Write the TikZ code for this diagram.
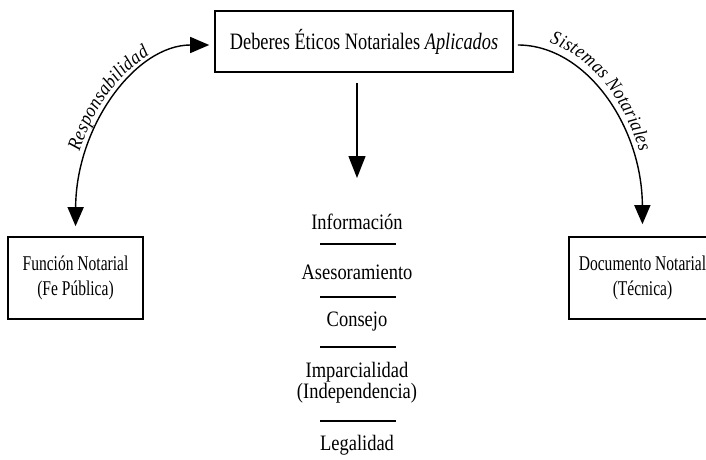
\documentclass[tikz,border=0pt]{standalone}
\usepackage{fontspec}
\setmainfont{Liberation Serif}
\newfontfamily\condfont[FakeStretch=0.78]{Liberation Serif}
\newfontfamily\boxfont[FakeStretch=0.74]{Liberation Serif}
\newfontfamily\listfont[FakeStretch=0.84]{Liberation Serif}
\newfontfamily\lblfam[FakeStretch=0.9]{Liberation Serif}
\newcommand\lblfont{\lblfam\itshape\fontsize{19.5}{19.5}\selectfont}
\usetikzlibrary{arrows.meta,decorations.text}
\tikzset{
  box/.style={draw, line width=1.6pt, inner sep=0pt, align=center},
  conn/.style={line width=1.4pt},
  listtext/.style={font=\listfont\fontsize{22}{24}\selectfont, inner sep=0pt, align=center},
  sepline/.style={line width=2pt},
  curvelabel/.style 2 args={decoration={text along path, text align={left indent=#2}, raise=8pt, text={#1}}, decorate}
}
\begin{document}
\begin{tikzpicture}[x=1pt,y=1pt]
\useasboundingbox (0,0) rectangle (706,459);
\clip (0,0) rectangle (706,459);
\fill[white] (0,0) rectangle (706,459);

% boxes
\node[box, minimum width=298pt, minimum height=61pt, font=\condfont\fontsize{23.5}{26}\selectfont] (top) at (364,417.5) {Deberes Éticos Notariales \textit{Aplicados}};
\node[box, minimum width=135pt, minimum height=82pt, font=\boxfont\fontsize{21}{25}\selectfont] (fn) at (75.5,181) {Función Notarial\\(Fe Pública)};
\node[box, minimum width=147pt, minimum height=82pt, font=\boxfont\fontsize{21}{25}\selectfont] (doc) at (642.5,181) {Documento Notarial\\(Técnica)};

% central list
\node[listtext] (info) at (357,237) {Información};
\node[listtext] (ases) at (357,187) {Asesoramiento};
\node[listtext] (cons) at (357,137) {Consejo};
\node[listtext, font=\listfont\fontsize{22}{21}\selectfont] (impa) at (357,76) {Imparcialidad\\(Independencia)};
\node[listtext] (lega) at (357,14) {Legalidad};
\draw[sepline] (320,215) -- (396,215);
\draw[sepline] (320,162) -- (396,162);
\draw[sepline] (320,112) -- (396,112);
\draw[sepline] (320,38) -- (396,38);

% vertical arrow
\coordinate (vtip) at (357,281);
\draw[conn, -{Triangle[width=17pt,length=22pt]}, shorten <=10pt] (top.south -| vtip) -- (vtip);

% left curve (both ends)
\draw[conn, {Triangle[width=16pt,length=19pt]}-{Triangle[width=16pt,length=19pt]}, shorten <=10pt, shorten >=5pt]
  (fn.north) .. controls (76,333) and (135.5,414) .. ([yshift=-3.5pt]top.west);
\path[curvelabel={|\lblfont|Responsabilidad}{74pt}]
  (76,232) .. controls (76,333) and (135.5,414) .. (210,414);

% right curve
\draw[conn, -{Triangle[width=16pt,length=19pt]}, shorten <=4pt, shorten >=12pt]
  ([yshift=-3.5pt]top.east) .. controls (586,414) and (642,333) .. (doc.north);
\path[curvelabel={|\lblfont|Sistemas Notariales}{30pt}]
  (517,414) .. controls (586,414) and (642,333) .. (642,234);
\end{tikzpicture}
\end{document}
